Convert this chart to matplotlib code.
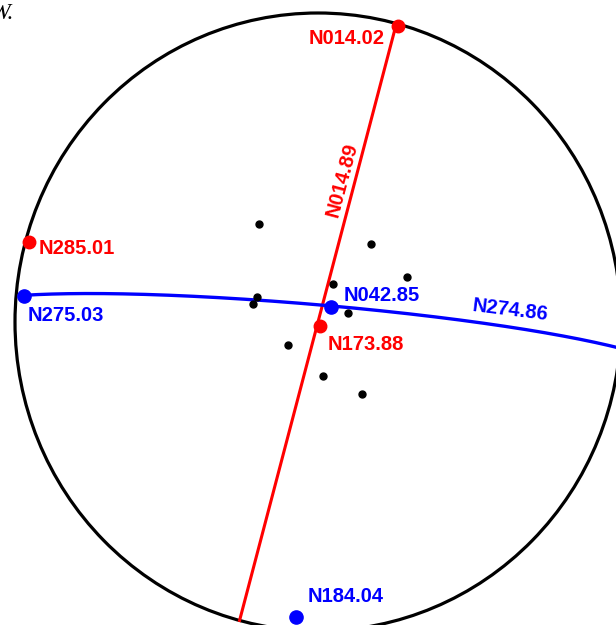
import numpy as np
import matplotlib
matplotlib.use("Agg")
import matplotlib.pyplot as plt
from matplotlib.patches import Circle

# black data points (trend, plunge in degrees)
pt_trend = [328.6, 34.7, 63.7, 21.7, 291.5, 285.1, 73.6, 232.8, 174.9, 148.1]
pt_plunge = [59.5, 65.0, 63.1, 79.3, 72.3, 71.8, 81.6, 80.0, 75.8, 67.6]

# red set
red_labels = ["N014.02", "N285.01", "N173.88"]
red_trend = [15.4, 285.25, 153.0]
red_plunge = [0.7, 1.3, 88.8]
red_strike, red_dip = 15.0, 90.0
red_plane_label = "N014.89"

# blue set
blue_labels = ["N275.03", "N042.85", "N184.04"]
blue_trend = [274.95, 40.3, 184.35]
blue_plunge = [3.0, 84.7, 4.8]
blue_strike, blue_dip = 274.86, 85.5
blue_plane_label = "N274.86"


def project(trend, plunge):
    # lower hemisphere equal-area, primitive radius 1
    t = np.radians(trend)
    r = np.sqrt(2) * np.sin(np.radians(90 - np.asarray(plunge)) / 2)
    return r * np.sin(t), r * np.cos(t)


def great_circle(strike, dip, rake0=0.0, rake1=180.0):
    s = np.radians(strike)
    d = np.radians(dip)
    rk = np.radians(np.linspace(rake0, rake1, 361))
    sv = np.array([np.sin(s), np.cos(s), 0.0])
    dv = np.array([np.cos(d) * np.sin(s + np.pi / 2), np.cos(d) * np.cos(s + np.pi / 2), np.sin(d)])
    v = np.outer(np.cos(rk), sv) + np.outer(np.sin(rk), dv)
    pl = np.degrees(np.arcsin(np.clip(v[:, 2], -1, 1)))
    tr = np.degrees(np.arctan2(v[:, 0], v[:, 1]))
    return project(tr, pl)


W, H = 616, 625
fig = plt.figure(figsize=(W / 100, H / 100), dpi=100)
ax = fig.add_axes([0, 0, 1, 1])
cx, cy, rx, ry = 318, 322, 303, 309
ax.set_xlim(-cx / rx, (W - cx) / rx)
ax.set_ylim((cy - H) / ry, cy / ry)
ax.axis("off")

ax.add_patch(Circle((0, 0), 1, fill=False, color="black", lw=2.3, zorder=2))

lab_font = dict(family="Liberation Sans", weight="bold", fontsize=14.5)

# red plane + points
gx, gy = great_circle(red_strike, red_dip, 0.5, 180)
ax.plot(gx, gy, color="red", lw=2.2, zorder=3)
rx_, ry_ = project(red_trend, red_plunge)
ax.plot(rx_, ry_, "o", color="red", ms=9, zorder=5)

# blue plane + points
gx, gy = great_circle(blue_strike, blue_dip, 3.0, 180)
ax.plot(gx, gy, color="blue", lw=2.4, zorder=3)
bx, by = project(blue_trend, blue_plunge)
ax.plot(bx, by, "o", color="blue", ms=9.5, zorder=5)

# black points
px, py = project(pt_trend, pt_plunge)
ax.plot(px, py, "o", color="black", ms=5, zorder=4)

red_off = [(-51, -12.5), (48, -6.5), (45.5, -18)]
for lab, x, y, off in zip(red_labels, rx_, ry_, red_off):
    ax.annotate(lab, (x, y), xytext=off, textcoords="offset pixels",
                ha="center", va="center", color="red", **lab_font)
blue_off = [(41.5, -19), (50.5, 11.5), (49.5, 20)]
for lab, x, y, off in zip(blue_labels, bx, by, blue_off):
    ax.annotate(lab, (x, y), xytext=off, textcoords="offset pixels",
                ha="center", va="center", color="blue", **lab_font)

ax.text(342 / W, 1 - 180 / H, red_plane_label, transform=ax.transAxes, rotation=75,
        ha="center", va="center", color="red", rotation_mode="anchor", **lab_font)
ax.text(510 / W, 1 - 310 / H, blue_plane_label, transform=ax.transAxes, rotation=-7,
        ha="center", va="center", color="blue", rotation_mode="anchor", **lab_font)

# leftover caption tail at the top-left corner
fig.text(14 / W, 1 - 19 / H, "W.", ha="right", va="baseline",
         family="Liberation Serif", style="italic", fontsize=17)

fig.savefig("out.png", dpi=100)
